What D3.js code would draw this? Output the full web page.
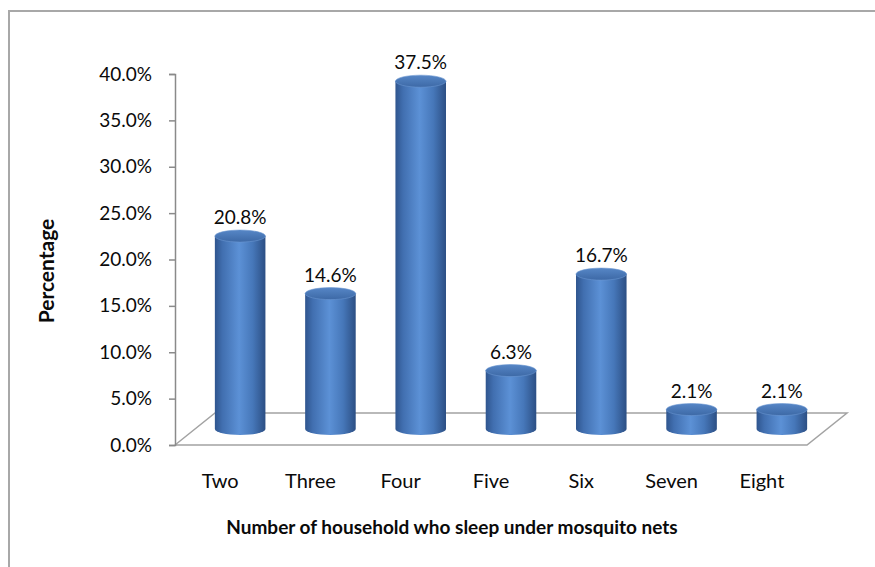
<!DOCTYPE html>
<html>
<head>
<meta charset="utf-8">
<script src="https://cdn.jsdelivr.net/npm/d3@7"></script>
<style>
  body { margin: 0; background: #fff; }
  text { font-family: Lato, "Open Sans", sans-serif; fill: #0a0a0a; }
</style>
</head>
<body>
<div id="chart"></div>
<script>
// data
const categories = ["Two", "Three", "Four", "Five", "Six", "Seven", "Eight"]
const percents = [0.208, 0.146, 0.375, 0.063, 0.167, 0.021, 0.021]
const yTicks = [0, 0.05, 0.10, 0.15, 0.20, 0.25, 0.30, 0.35, 0.40]
const xTitle = "Number of household who sleep under mosquito nets"
const yTitle = "Percentage"

const W = 875, H = 567
// floor corners: front edge from x0..x1 at y0, pushed back by depth
const x0 = 175, x1 = 807, y0 = 445, yTop = 74
const depthX = 40, depthY = -32

var svg = d3.select("#chart").append("svg")
    .attr("width", W).attr("height", H)

// outer frame (runs off the picture on right / bottom)
svg.append("rect")
    .attr("x", 9).attr("y", 11)
    .attr("width", 900).attr("height", 600)
    .attr("fill", "none").attr("stroke", "#a8a8a8").attr("stroke-width", 2)

var x = d3.scaleBand().domain(categories).range([x0, x1])
var y = d3.scaleLinear().domain([0, 0.4]).range([y0, yTop])

var defs = svg.append("defs")
var side = defs.append("linearGradient").attr("id", "side")
    .attr("x1", "0%").attr("x2", "100%").attr("y1", "0%").attr("y2", "0%")
side.append("stop").attr("offset", "0%").attr("stop-color", "#2f558e")
side.append("stop").attr("offset", "15%").attr("stop-color", "#416fb0")
side.append("stop").attr("offset", "48%").attr("stop-color", "#5c91d6")
side.append("stop").attr("offset", "75%").attr("stop-color", "#4677b9")
side.append("stop").attr("offset", "100%").attr("stop-color", "#2c4f84")

var topG = defs.append("linearGradient").attr("id", "topcap")
    .attr("x1", "0%").attr("x2", "0%").attr("y1", "0%").attr("y2", "100%")
topG.append("stop").attr("offset", "0%").attr("stop-color", "#5686c6")
topG.append("stop").attr("offset", "100%").attr("stop-color", "#3d69a6")

// floor
const floorColor = "#a3a3a3"
var floor = svg.append("g").attr("id", "floor")
    .attr("fill", "none").attr("stroke", floorColor).attr("stroke-width", 1.5)
floor.append("path")
    .attr("d", d3.line()([[x0, y0], [x0 + depthX, y0 + depthY], [x1 + depthX, y0 + depthY], [x1, y0], [x0, y0]]))

// y axis
var yAxis = d3.axisLeft(y).tickValues(yTicks).tickSize(6).tickPadding(17)
    .tickFormat(d3.format(".1%"))
var yAxisGroup = svg.append("g").attr("transform", "translate(" + x0 + ",0)").call(yAxis)
yAxisGroup.select(".domain").attr("stroke", "#8a8a8a").attr("stroke-width", 1.5)
yAxisGroup.selectAll(".tick line").attr("stroke", "#8a8a8a").attr("stroke-width", 1.5)
yAxisGroup.selectAll(".tick text").style("font-size", "19px").attr("fill", "#0a0a0a")
    .style("font-family", "Lato, sans-serif")

// cylinders
const rx = x.bandwidth() * 0.28, ry = 6
var bars = svg.append("g").attr("id", "bars")
var cx = d => x(d.cat) + x.bandwidth() / 2 + depthX / 2
var base = y(0) + depthY / 2
var rows = categories.map((c, i) => ({ cat: c, v: percents[i] }))

bars.selectAll("path.body").data(rows).enter()
    .append("path").attr("class", "body")
    .attr("fill", "url(#side)")
    .attr("d", d => {
        var t = y(d.v) + depthY / 2
        var l = cx(d) - rx, r = cx(d) + rx
        return "M" + l + "," + t + "L" + l + "," + base +
            "A" + rx + "," + ry + " 0 0 0 " + r + "," + base +
            "L" + r + "," + t + "Z"
    })

bars.selectAll("ellipse").data(rows).enter()
    .append("ellipse")
    .attr("cx", cx)
    .attr("cy", d => y(d.v) + depthY / 2)
    .attr("rx", rx).attr("ry", ry)
    .attr("fill", "url(#topcap)")
    .attr("stroke", "#6a95d0").attr("stroke-width", 0.6)

// data labels
bars.selectAll("text").data(rows).enter()
    .append("text")
    .attr("x", cx)
    .attr("y", d => y(d.v) + depthY / 2 - ry - 6)
    .attr("text-anchor", "middle")
    .style("font-size", "19px")
    .text(d => d3.format(".1%")(d.v))

// category labels on the front edge
svg.append("g").selectAll("text").data(categories).enter()
    .append("text")
    .attr("x", d => x(d) + x.bandwidth() / 2)
    .attr("y", 488)
    .attr("text-anchor", "middle")
    .style("font-size", "20px")
    .text(d => d)

// axis titles
svg.append("text")
    .attr("x", 452).attr("y", 534)
    .attr("text-anchor", "middle")
    .style("font-size", "19px").style("font-weight", "bold")
    .text(xTitle)

svg.append("text")
    .attr("transform", "translate(54,271) rotate(-90)")
    .attr("text-anchor", "middle")
    .style("font-size", "21px").style("font-weight", "bold")
    .text(yTitle)
</script>
</body>
</html>
